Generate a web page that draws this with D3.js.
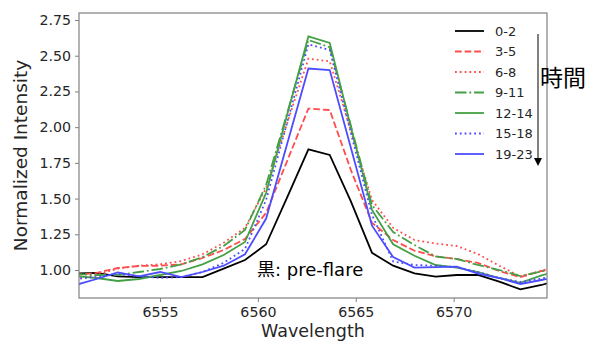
<!DOCTYPE html>
<html><head><meta charset="utf-8">
<script src="https://cdn.jsdelivr.net/npm/d3@7"></script>
<style>
html,body{margin:0;padding:0;background:#fff;}
svg{display:block;}
text{font-family:"DejaVu Sans","Noto Sans CJK JP",sans-serif;}
</style></head>
<body>
<script>
const wavelengths = [6550.68, 6551.76, 6552.84, 6553.92, 6555.01, 6556.09, 6557.17, 6558.25,
  6559.34, 6560.42, 6561.50, 6562.58, 6563.67, 6564.75, 6565.83, 6566.91, 6568.00, 6569.08,
  6570.16, 6571.24, 6572.33, 6573.41, 6574.49, 6575.57];

const s0_2   = [0.975, 0.98, 0.955, 0.95, 0.95, 0.95, 0.95, 1.01, 1.07, 1.18, 1.51, 1.845, 1.805, 1.48, 1.12, 1.03, 0.977, 0.953, 0.965, 0.965, 0.918, 0.865, 0.895, 0.94];
const s3_5   = [0.965, 0.98, 1.014, 1.028, 1.03, 1.04, 1.084, 1.14, 1.217, 1.40, 1.765, 2.13, 2.12, 1.70, 1.33, 1.21, 1.135, 1.095, 1.077, 1.05, 0.993, 0.95, 0.993, 1.02];
const s6_8   = [0.937, 0.965, 1.01, 1.03, 1.04, 1.063, 1.11, 1.19, 1.295, 1.574, 2.03, 2.48, 2.46, 1.975, 1.49, 1.295, 1.21, 1.185, 1.168, 1.112, 1.03, 0.955, 0.995, 1.04];
const s9_11  = [0.972, 0.965, 0.965, 0.986, 1.007, 1.04, 1.09, 1.168, 1.28, 1.595, 2.10, 2.61, 2.56, 2.01, 1.455, 1.265, 1.175, 1.095, 1.077, 1.035, 1.0, 0.958, 0.99, 1.03];
const s12_14 = [0.958, 0.944, 0.923, 0.937, 0.965, 0.993, 1.04, 1.105, 1.196, 1.54, 2.09, 2.635, 2.59, 2.0, 1.42, 1.18, 1.10, 1.035, 1.017, 0.986, 0.944, 0.91, 0.963, 1.0];
const s15_18 = [0.937, 0.951, 0.972, 0.958, 0.944, 0.951, 0.986, 1.05, 1.147, 1.49, 2.035, 2.58, 2.54, 1.96, 1.385, 1.06, 1.035, 1.03, 1.02, 0.986, 0.944, 0.916, 0.94, 0.97];
const s19_23 = [0.895, 0.937, 0.983, 0.955, 0.986, 0.95, 0.986, 1.03, 1.11, 1.36, 1.885, 2.41, 2.40, 1.855, 1.31, 1.09, 1.017, 1.02, 1.023, 0.975, 0.944, 0.902, 0.93, 0.96];

const seriesLabels = ["0-2", "3-5", "6-8", "9-11", "12-14", "15-18", "19-23"];
const seriesValues = [s0_2, s3_5, s6_8, s9_11, s12_14, s15_18, s19_23];
const xTicks = [6555, 6560, 6565, 6570];
const yTicks = [1.00, 1.25, 1.50, 1.75, 2.00, 2.25, 2.50, 2.75];

const styles = [
  {color:"#000000", dash:null},
  {color:"#ff4d4d", dash:"6.7,2.9"},
  {color:"#ff4d4d", dash:"1.8,3.0"},
  {color:"#44a044", dash:"11.5,2.9,1.8,2.9"},
  {color:"#44a044", dash:null},
  {color:"#4d4dff", dash:"1.8,3.0"},
  {color:"#4d4dff", dash:null}
];

const W = 589, H = 341;
const m = {left:79, right:547, top:13, bottom:298};
const svg = d3.select("body").append("svg").attr("width", W).attr("height", H);

const x = d3.scaleLinear().domain([6550.86, 6574.77]).range([m.left, m.right]);
const y = d3.scaleLinear().domain([0.804, 2.799]).range([m.bottom, m.top]);

svg.append("defs").append("clipPath").attr("id","clip")
  .append("rect").attr("x", m.left).attr("y", m.top)
  .attr("width", m.right - m.left).attr("height", m.bottom - m.top);

const line = d3.line().x((d,i)=>x(wavelengths[i])).y(d=>y(d));
const g = svg.append("g").attr("clip-path","url(#clip)");
seriesValues.forEach((vals, k) => {
  g.append("path").datum(vals).attr("d", line)
    .attr("fill","none").attr("stroke", styles[k].color)
    .attr("stroke-width", 1.8)
    .attr("stroke-dasharray", styles[k].dash)
    .attr("stroke-linejoin","miter");
});

// frame
svg.append("rect").attr("x", m.left).attr("y", m.top)
  .attr("width", m.right - m.left).attr("height", m.bottom - m.top)
  .attr("fill","none").attr("stroke","#808080").attr("stroke-width",1.2);

const xAxis = svg.append("g").attr("transform",`translate(0,${m.bottom})`)
  .call(d3.axisBottom(x).tickValues(xTicks).tickFormat(d3.format("d")).tickSize(4).tickPadding(5));
const yAxis = svg.append("g").attr("transform",`translate(${m.left},0)`)
  .call(d3.axisLeft(y).tickValues(yTicks).tickFormat(d3.format(".2f")).tickSize(4).tickPadding(4));
[xAxis, yAxis].forEach(a => {
  a.select(".domain").remove();
  a.selectAll(".tick line").attr("stroke","#808080").attr("stroke-width",1);
  a.selectAll(".tick text").attr("fill","#262626").style("font-size","14.2px")
    .style("font-family","'DejaVu Sans', sans-serif");
});

svg.append("text").attr("x", (m.left + m.right)/2).attr("y", 336.5)
  .attr("text-anchor","middle").style("font-size","17.5px").attr("fill","#262626")
  .text("Wavelength");
svg.append("text").attr("transform",`translate(27,${(m.top+m.bottom)/2}) rotate(-90)`)
  .attr("text-anchor","middle").style("font-size","18.5px").attr("fill","#262626")
  .text("Normalized Intensity");

// legend
const lg = svg.append("g");
seriesLabels.forEach((lab, k) => {
  const yy = 31 + k * 20.5;
  lg.append("line").attr("x1",455).attr("x2",484).attr("y1",yy).attr("y2",yy)
    .attr("stroke", styles[k].color).attr("stroke-width",1.8)
    .attr("stroke-dasharray", styles[k].dash);
  lg.append("text").attr("x",495).attr("y",yy).attr("dy","0.36em")
    .style("font-size","13px").attr("fill","#262626").text(lab);
});

// time arrow
svg.append("line").attr("x1",538).attr("x2",538).attr("y1",34).attr("y2",160)
  .attr("stroke","#000").attr("stroke-width",1);
svg.append("path").attr("d","M534,158 L542,158 L538,166 Z").attr("fill","#000");
svg.append("text").attr("x",540).attr("y",77).attr("dy","0.38em")
  .style("font-size","23px").style("font-family","'Noto Sans CJK JP',sans-serif")
  .attr("fill","#000").text("時間");

svg.append("text").attr("x",257).attr("y",270).attr("dy","0.36em")
  .style("font-size","18px").attr("fill","#000").text("黒: pre-flare");
</script>
</body></html>
